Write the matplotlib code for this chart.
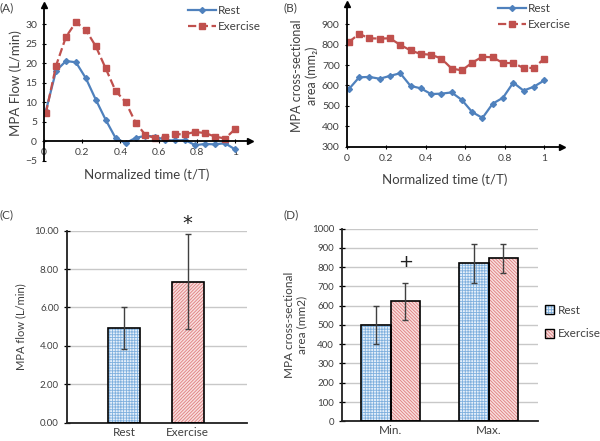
import matplotlib
matplotlib.use("Agg")
import matplotlib.pyplot as plt
from matplotlib.patches import Patch

plt.rcParams['font.family'] = ['Lato', 'DejaVu Sans']
plt.rcParams['hatch.linewidth'] = 0.6

# ---------------- data ----------------
t = [0.01, 0.063, 0.115, 0.167, 0.219, 0.271, 0.323, 0.375, 0.427, 0.479,
     0.531, 0.583, 0.635, 0.687, 0.739, 0.791, 0.843, 0.895, 0.947, 1.0]
flow_rest = [7.8, 18.1, 20.6, 20.3, 16.2, 10.7, 5.5, 0.8, -0.5, 0.85,
             1.4, 1.2, 0.3, 0.2, 0.3, -1.0, -0.7, -0.8, -0.5, -2.1]
flow_ex = [7.2, 19.4, 26.8, 30.6, 28.6, 24.4, 18.7, 12.9, 10.1, 4.8,
           1.6, 0.8, 1.0, 1.8, 1.8, 2.4, 2.1, 1.2, 0.7, 3.1]
area_rest = [581, 640, 642, 633, 647, 660, 598, 586, 558, 560,
             566, 529, 470, 441, 511, 540, 614, 575, 594, 625]
area_ex = [812, 853, 831, 830, 831, 799, 772, 754, 751, 732,
           683, 674, 712, 741, 738, 710, 710, 686, 686, 732]

c_cats = ['Rest', 'Exercise']
c_means = [4.93, 7.35]
c_errs = [1.1, 2.47]

d_cats = ['Min.', 'Max.']
d_rest = [500, 820]
d_rest_err = [100, 100]
d_ex = [622, 845]
d_ex_err = [97, 76]

BLUE = '#4F81BD'
RED = '#C0504D'
DARK = '#404040'
HB = '#7FB0DE'
HR = '#DE7E7E'
FB = '#E6F0FA'
FR = '#F8DEDE'
HATCH_B = '++++++'
HATCH_C = '//////////'
HATCH_D = '\\\\\\\\\\\\\\\\\\\\'

fig = plt.figure(figsize=(6, 4.41), dpi=100)

def arrow_axes(ax, ybase):
    ax.plot(1, ybase, '>', color='black', ms=5, transform=ax.get_yaxis_transform(), clip_on=False)
    ax.plot(0, 1, '^', color='black', ms=5, transform=ax.get_xaxis_transform(), clip_on=False)

def style_line_axes(ax):
    for s in ['top', 'right']:
        ax.spines[s].set_visible(False)
    for s in ['left', 'bottom']:
        ax.spines[s].set_linewidth(1.3)
    ax.tick_params(labelsize=7.5, length=3, width=0.8, direction='inout',
                   colors='black', labelcolor=DARK)

def line_legend(ax, x_px, y_px):
    lg = ax.legend(loc='upper left', bbox_to_anchor=(x_px/600, 1 - y_px/441),
                   bbox_transform=fig.transFigure, frameon=False, fontsize=8.5,
                   handlelength=2.4, handletextpad=0.15, labelspacing=0.45,
                   borderaxespad=0, borderpad=0)
    for txt in lg.get_texts():
        txt.set_color(DARK)

# ---------------- Panel A ----------------
axA = fig.add_axes([0.0733, 0.6356, 0.344, 0.353])
axA.plot(t, flow_rest, '-', color=BLUE, marker='D', ms=3, lw=1.6, label='Rest')
axA.plot(t, flow_ex, '--', color=RED, marker='s', ms=4.5, lw=1.6, label='Exercise')
axA.set_xlim(0, 1.08)
axA.set_ylim(-5, 35)
axA.set_yticks([-5, 0, 5, 10, 15, 20, 25, 30])
axA.set_xticks([0, 0.2, 0.4, 0.6, 0.8, 1])
axA.set_xticklabels(['0', '0.2', '0.4', '0.6', '0.8', '1'])
style_line_axes(axA)
axA.spines['bottom'].set_position(('data', 0))
arrow_axes(axA, 0)
axA.set_ylabel('MPA Flow (L/min)', fontsize=9.5, color=DARK, labelpad=2)
fig.text(147/600, 1 - 175/441, 'Normalized time (t/T)', fontsize=9.5, color=DARK,
         ha='center', va='center')
line_legend(axA, 188, 5)
fig.text(0.0, 1 - 8/441, '(A)', fontsize=8.5, color=DARK, va='center')

# ---------------- Panel B ----------------
axB = fig.add_axes([0.5778, 0.6673, 0.359, 0.324])
axB.plot(t, area_rest, '-', color=BLUE, marker='D', ms=3, lw=1.6, label='Rest')
axB.plot(t, area_ex, '--', color=RED, marker='s', ms=4.5, lw=1.6, label='Exercise')
axB.set_xlim(0, 1.09)
axB.set_ylim(300, 1000)
axB.set_yticks([300, 400, 500, 600, 700, 800, 900])
axB.set_xticks([0, 0.2, 0.4, 0.6, 0.8, 1])
axB.set_xticklabels(['0', '0.2', '0.4', '0.6', '0.8', '1'])
style_line_axes(axB)
arrow_axes(axB, 300)
axB.set_ylabel('MPA cross-sectional\narea (mm₂)', fontsize=9, color=DARK, labelpad=3)
fig.text(445/600, 1 - 180/441, 'Normalized time (t/T)', fontsize=9.5, color=DARK,
         ha='center', va='center')
line_legend(axB, 498, 3)
fig.text(283/600, 1 - 8/441, '(B)', fontsize=8.5, color=DARK, va='center')

def style_bar_axes(ax):
    for s in ['top', 'right']:
        ax.spines[s].set_visible(False)
    for s in ['left', 'bottom']:
        ax.spines[s].set_linewidth(1.3)
        ax.spines[s].set_color('#202020')
    ax.yaxis.grid(True, color='#C8C8C8', lw=1.0)
    ax.set_axisbelow(True)
    ax.tick_params(axis='y', labelsize=7, labelcolor=DARK, length=4, width=0.9, direction='inout')
    ax.tick_params(axis='x', labelsize=8.5, labelcolor=DARK, length=0, pad=3)

def hatched_bars(ax, x, h, w, hcolor, fcolor, hatch, err):
    ax.bar(x, h, w, facecolor=fcolor, edgecolor=hcolor, hatch=hatch, linewidth=0, zorder=2)
    ax.bar(x, h, w, fill=False, edgecolor='black', linewidth=1.2, zorder=3,
           yerr=err, error_kw=dict(ecolor=DARK, elinewidth=1.0, capsize=2, capthick=1.0, zorder=4))

# ---------------- Panel C ----------------
axC = fig.add_axes([0.111, 0.0415, 0.3, 0.4354])
xc = list(range(len(c_cats)))
hatched_bars(axC, [xc[0]], [c_means[0]], 0.5, HB, FB, HATCH_B, [c_errs[0]])
hatched_bars(axC, [xc[1]], [c_means[1]], 0.5, HR, FR, HATCH_C, [c_errs[1]])
axC.set_xlim(-0.91, 1.93)
axC.set_ylim(0, 10)
axC.set_yticks([0, 2, 4, 6, 8, 10])
axC.set_yticklabels(['0.00', '2.00', '4.00', '6.00', '8.00', '10.00'])
axC.set_xticks(xc)
axC.set_xticklabels(c_cats)
style_bar_axes(axC)
axC.set_ylabel('MPA flow (L/min)', fontsize=8, color=DARK, labelpad=6)
axC.text(xc[1], 10.35, '*', fontsize=14, ha='center', va='center', color='#202020',
         family='DejaVu Sans')
fig.text(0.0, 1 - 215/441, '(C)', fontsize=8.5, color=DARK, va='center')

# ---------------- Panel D ----------------
axD = fig.add_axes([0.5695, 0.0447, 0.3267, 0.437])
xd = list(range(len(d_cats)))
bw = 0.3
hatched_bars(axD, [x - bw/2 for x in xd], d_rest, bw, HB, FB, HATCH_B, d_rest_err)
hatched_bars(axD, [x + bw/2 for x in xd], d_ex, bw, HR, FR, HATCH_D, d_ex_err)
axD.set_xlim(-0.5, 1.5)
axD.set_ylim(0, 1000)
axD.set_yticks(range(0, 1001, 100))
axD.set_xticks(xd)
axD.set_xticklabels(d_cats)
style_bar_axes(axD)
axD.set_ylabel('MPA cross-sectional\narea (mm2)', fontsize=8.5, color=DARK, labelpad=3)
axD.text(xd[0] + bw/2, 827, '+', fontsize=13, ha='center', va='center', color='#202020',
         family='DejaVu Sans')
handles = [(Patch(facecolor=FB, edgecolor=HB, hatch=HATCH_B, linewidth=0),
            Patch(fill=False, edgecolor='black', linewidth=1.0)),
           (Patch(facecolor=FR, edgecolor=HR, hatch=HATCH_D, linewidth=0),
            Patch(fill=False, edgecolor='black', linewidth=1.0))]
lgD = fig.legend(handles, ['Rest', 'Exercise'], loc='center left',
                 bbox_to_anchor=(545/600, 1 - 322/441), frameon=False, fontsize=8.5,
                 handlelength=0.75, handleheight=0.75, handletextpad=0.3, labelspacing=1.1,
                 borderaxespad=0, borderpad=0)
for txt in lgD.get_texts():
    txt.set_color(DARK)
fig.text(283/600, 1 - 215/441, '(D)', fontsize=8.5, color=DARK, va='center')

fig.savefig('out.png', dpi=100)
